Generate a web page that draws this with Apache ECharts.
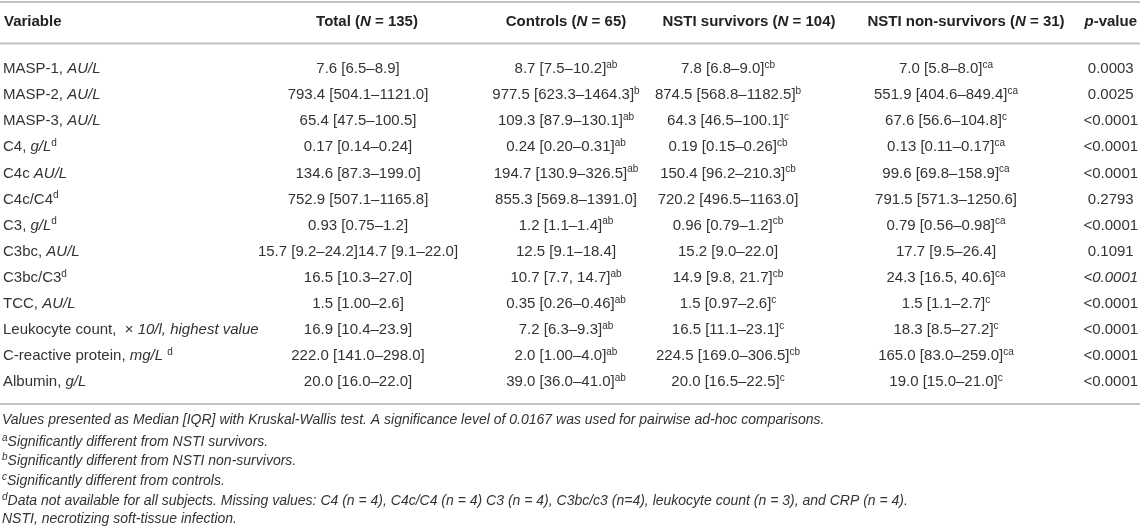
<!DOCTYPE html>
<html><head><meta charset="utf-8">
<script src="https://cdn.jsdelivr.net/npm/echarts@6/dist/echarts.min.js"></script>
<style>html,body{margin:0;padding:0;background:#fff}#c{width:1140px;height:531px}</style>
</head><body><div id="c"></div>
<script>
// ---------- data ----------
const headers = ['Variable', 'Total (N = 135)', 'Controls (N = 65)', 'NSTI survivors (N = 104)', 'NSTI non-survivors (N = 31)', 'p-value'];
const variableNames = ['MASP-1, ', 'MASP-2, ', 'MASP-3, ', 'C4, ', 'C4c ', 'C4c/C4', 'C3, ', 'C3bc, ', 'C3bc/C3', 'TCC, ', 'Leukocyte count,  \u00d7 ', 'C-reactive protein, ', 'Albumin, '];
const variableUnits = ['AU/L', 'AU/L', 'AU/L', 'g/L', 'AU/L', '', 'g/L', 'AU/L', '', 'AU/L', '10/l, highest value', 'mg/L ', 'g/L'];
const variableNotes = ['', '', '', 'd', '', 'd', 'd', '', 'd', '', '', 'd', ''];
const total = ['7.6 [6.5\u20138.9]', '793.4 [504.1\u20131121.0]', '65.4 [47.5\u2013100.5]', '0.17 [0.14\u20130.24]', '134.6 [87.3\u2013199.0]', '752.9 [507.1\u20131165.8]', '0.93 [0.75\u20131.2]', '15.7 [9.2\u201324.2]14.7 [9.1\u201322.0]', '16.5 [10.3\u201327.0]', '1.5 [1.00\u20132.6]', '16.9 [10.4\u201323.9]', '222.0 [141.0\u2013298.0]', '20.0 [16.0\u201322.0]'];
const totalSup = ['', '', '', '', '', '', '', '', '', '', '', '', ''];
const controls = ['8.7 [7.5\u201310.2]', '977.5 [623.3\u20131464.3]', '109.3 [87.9\u2013130.1]', '0.24 [0.20\u20130.31]', '194.7 [130.9\u2013326.5]', '855.3 [569.8\u20131391.0]', '1.2 [1.1\u20131.4]', '12.5 [9.1\u201318.4]', '10.7 [7.7, 14.7]', '0.35 [0.26\u20130.46]', '7.2 [6.3\u20139.3]', '2.0 [1.00\u20134.0]', '39.0 [36.0\u201341.0]'];
const controlsSup = ['ab', 'b', 'ab', 'ab', 'ab', '', 'ab', '', 'ab', 'ab', 'ab', 'ab', 'ab'];
const survivors = ['7.8 [6.8\u20139.0]', '874.5 [568.8\u20131182.5]', '64.3 [46.5\u2013100.1]', '0.19 [0.15\u20130.26]', '150.4 [96.2\u2013210.3]', '720.2 [496.5\u20131163.0]', '0.96 [0.79\u20131.2]', '15.2 [9.0\u201322.0]', '14.9 [9.8, 21.7]', '1.5 [0.97\u20132.6]', '16.5 [11.1\u201323.1]', '224.5 [169.0\u2013306.5]', '20.0 [16.5\u201322.5]'];
const survivorsSup = ['cb', 'b', 'c', 'cb', 'cb', '', 'cb', '', 'cb', 'c', 'c', 'cb', 'c'];
const nonSurvivors = ['7.0 [5.8\u20138.0]', '551.9 [404.6\u2013849.4]', '67.6 [56.6\u2013104.8]', '0.13 [0.11\u20130.17]', '99.6 [69.8\u2013158.9]', '791.5 [571.3\u20131250.6]', '0.79 [0.56\u20130.98]', '17.7 [9.5\u201326.4]', '24.3 [16.5, 40.6]', '1.5 [1.1\u20132.7]', '18.3 [8.5\u201327.2]', '165.0 [83.0\u2013259.0]', '19.0 [15.0\u201321.0]'];
const nonSurvivorsSup = ['ca', 'ca', 'c', 'ca', 'ca', '', 'ca', '', 'ca', 'c', 'c', 'ca', 'c'];
const pValues = ['0.0003', '0.0025', '<0.0001', '<0.0001', '<0.0001', '0.2793', '<0.0001', '0.1091', '<0.0001', '<0.0001', '<0.0001', '<0.0001', '<0.0001'];
const pValueItalic = [false, false, false, false, false, false, false, false, true, false, false, false, false];
const footnotes = [
  ['', 'Values presented as Median [IQR] with Kruskal-Wallis test. A significance level of 0.0167 was used for pairwise ad-hoc comparisons.'],
  ['a', 'Significantly different from NSTI survivors.'],
  ['b', 'Significantly different from NSTI non-survivors.'],
  ['c', 'Significantly different from controls.'],
  ['d', 'Data not available for all subjects. Missing values: C4 (n = 4), C4c/C4 (n = 4) C3 (n = 4), C3bc/c3 (n=4), leukocyte count (n = 3), and CRP (n = 4).'],
  ['', 'NSTI, necrotizing soft-tissue infection.']
];

// ---------- layout ----------
const FONT = '"Liberation Sans", Arial, Helvetica, sans-serif';
const W = 1140;
const ROW0 = 69, ROW_H = 26.1;
const GRID_TOP = ROW0 - ROW_H / 2, GRID_H = ROW_H * variableNames.length;
const colCenter = [4, 358, 566, 728, 946, 1111];
const headerShift = [0, 9, 0, 21, 20, 0];
const RULES = [2, 43.5, 404];
const FOOT_Y0 = 422, FOOT_DY = 19.8;
const TEXT = '#333', HEAD = '#222', RULE = '#c2c2c2';

const rich = {
  v: { fontSize: 15, fontFamily: FONT, color: TEXT, lineHeight: 18 },
  i: { fontSize: 15, fontFamily: FONT, fontStyle: 'italic', color: TEXT, lineHeight: 18 },
  s: { fontSize: 10, fontFamily: FONT, color: TEXT, lineHeight: 10, verticalAlign: 'top' },
  h: { fontSize: 15, fontFamily: FONT, fontWeight: 'bold', color: HEAD, lineHeight: 18 },
  hi: { fontSize: 15, fontFamily: FONT, fontWeight: 'bold', fontStyle: 'italic', color: HEAD, lineHeight: 18 }
};
const footRich = {
  f: { fontSize: 14, fontFamily: FONT, fontStyle: 'italic', color: TEXT, lineHeight: 18 },
  fs: { fontSize: 10, fontFamily: FONT, fontStyle: 'italic', color: TEXT, lineHeight: 10, verticalAlign: 'top' }
};

function headerRich(h) {
  return h.split(/(\bN(?= =)|^p(?=-value))/).filter(Boolean)
    .map(t => (t === 'N' || t === 'p') ? '{hi|' + t + '}' : '{h|' + t + '}').join('');
}
function variableRich(i) {
  let s = '{v|' + variableNames[i] + '}';
  if (variableUnits[i]) s += '{i|' + variableUnits[i] + '}';
  if (variableNotes[i]) s += '{s|' + variableNotes[i] + '}';
  return s;
}
function cellRich(val, sup, italic) {
  return '{' + (italic ? 'i' : 'v') + '|' + val + '}' + (sup ? '{s|' + sup + '}' : '');
}

const columns = [
  null,
  { values: total, sups: totalSup },
  { values: controls, sups: controlsSup },
  { values: survivors, sups: survivorsSup },
  { values: nonSurvivors, sups: nonSurvivorsSup },
  { values: pValues, sups: null, italic: pValueItalic }
];

const grids = [], xAxes = [], yAxes = [], series = [];
headers.forEach((h, c) => {
  const first = c === 0;
  grids.push({ left: first ? 3 : colCenter[c] - 5, width: first ? 2 : 10, top: GRID_TOP, height: GRID_H, containLabel: false });
  xAxes.push({
    gridIndex: c, type: 'category', position: 'top', data: [h], boundaryGap: true,
    axisLine: { show: false }, axisTick: { show: false }, splitLine: { show: false },
    axisLabel: {
      show: true, interval: 0, margin: 25, align: first ? 'left' : 'center',
      padding: headerShift[c] > 0 ? [0, 0, 0, headerShift[c] * 2] : 0,
      formatter: v => headerRich(v), rich: rich
    }
  });
  yAxes.push({
    gridIndex: c, type: 'category', inverse: true, data: variableNames.map((n, i) => i),
    show: first, axisLine: { show: false }, axisTick: { show: false }, splitLine: { show: false },
    axisLabel: { show: first, interval: 0, margin: 0, align: 'left', formatter: (v, i) => variableRich(i), rich: rich }
  });
  if (!first) {
    const col = columns[c];
    series.push({
      type: 'custom', name: h, xAxisIndex: c, yAxisIndex: c, silent: true,
      data: col.values.map((v, i) => [0, i]),
      renderItem: (params, api) => {
        const p = api.coord([api.value(0), api.value(1)]);
        const i = params.dataIndex;
        return {
          type: 'text', x: p[0], y: p[1],
          style: {
            text: cellRich(col.values[i], col.sups ? col.sups[i] : '', col.italic ? col.italic[i] : false),
            rich: rich, align: 'center', verticalAlign: 'middle', fill: TEXT, fontSize: 15, fontFamily: FONT
          }
        };
      }
    });
  }
});

const graphic = RULES.map(y => ({
  type: 'line', shape: { x1: 0, y1: y, x2: W, y2: y }, style: { stroke: RULE, lineWidth: 2 }, silent: true
}));
footnotes.forEach((f, k) => {
  graphic.push({
    type: 'text', left: 2, top: FOOT_Y0 + k * FOOT_DY - 9, silent: true,
    style: { text: (f[0] ? '{fs|' + f[0] + '}' : '') + '{f|' + f[1] + '}', rich: footRich, fill: TEXT, font: 'italic 14px ' + FONT }
  });
});

const chart = echarts.init(document.getElementById('c'), null, { renderer: 'canvas' });
chart.setOption({
  backgroundColor: '#fff',
  animation: false,
  tooltip: { show: false },
  grid: grids, xAxis: xAxes, yAxis: yAxes, series: series, graphic: graphic
});
</script></body></html>
